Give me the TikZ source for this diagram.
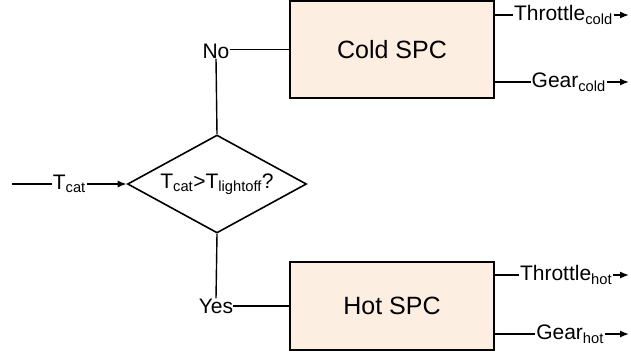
\documentclass[tikz,border=0pt]{standalone}
\usepackage{fontspec}
\setmainfont{Liberation Sans}
\usetikzlibrary{shapes.geometric,arrows.meta}
\definecolor{spcfill}{RGB}{253,238,226}
\tikzset{
  spcbox/.style={draw=black, line width=2.2pt, fill=spcfill, minimum width=204pt,
    inner sep=0pt, font=\fontsize{25}{30}\selectfont},
  decision/.style={draw=black, line width=1.6pt, diamond, aspect=1.83, minimum width=179pt,
    minimum height=98pt, inner sep=0pt, font=\fontsize{21}{25}\selectfont},
  lbl/.style={fill=white, inner sep=1pt, font=\fontsize{21}{25}\selectfont},
  wire/.style={line width=1.4pt},
  flow/.style={wire, -{Latex[length=9pt,width=7pt]}}
}
\begin{document}
\begin{tikzpicture}[x=1pt,y=-1pt]
  \useasboundingbox (0,0) rectangle (631,360);
  % controllers
  \node[spcbox, minimum height=97pt] (cold) at (392,49.5) {Cold SPC};
  \node[spcbox, minimum height=88pt] (hot) at (392,306) {Hot SPC};
  % decision
  \node[decision] (test) at (217,184) {T\textsubscript{cat}>T\textsubscript{lightoff}?};
  \coordinate (in) at (12,184);
  \draw[flow] (in) -- node[lbl] {T\textsubscript{cat}} (test.west);
  % branches
  \node[lbl, inner sep=0pt] (no) at (216,51) {No};
  \node[lbl, inner sep=0pt] (yes) at (216,306) {Yes};
  \draw[wire] (test.north) -- (no.south);
  \draw[wire] (no.east |- cold.west) -- (cold.west);
  \draw[wire] (test.south) -- (yes.north);
  \draw[wire] (yes.east |- hot.west) -- (hot.west);
  % outputs
  \coordinate (thrcold) at (629,15);
  \coordinate (gearcold) at (629,82);
  \coordinate (thrhot) at (629,275);
  \coordinate (gearhot) at (629,334);
  \draw[flow] (cold.east |- thrcold) -- node[lbl, pos=0.51] {Throttle\textsubscript{cold}} (thrcold);
  \draw[flow] (cold.east |- gearcold) -- node[lbl, pos=0.55] {Gear\textsubscript{cold}} (gearcold);
  \draw[flow] (hot.east |- thrhot) -- node[lbl, pos=0.53] {Throttle\textsubscript{hot}} (thrhot);
  \draw[flow] (hot.east |- gearhot) -- node[lbl, pos=0.56] {Gear\textsubscript{hot}} (gearhot);
\end{tikzpicture}
\end{document}
